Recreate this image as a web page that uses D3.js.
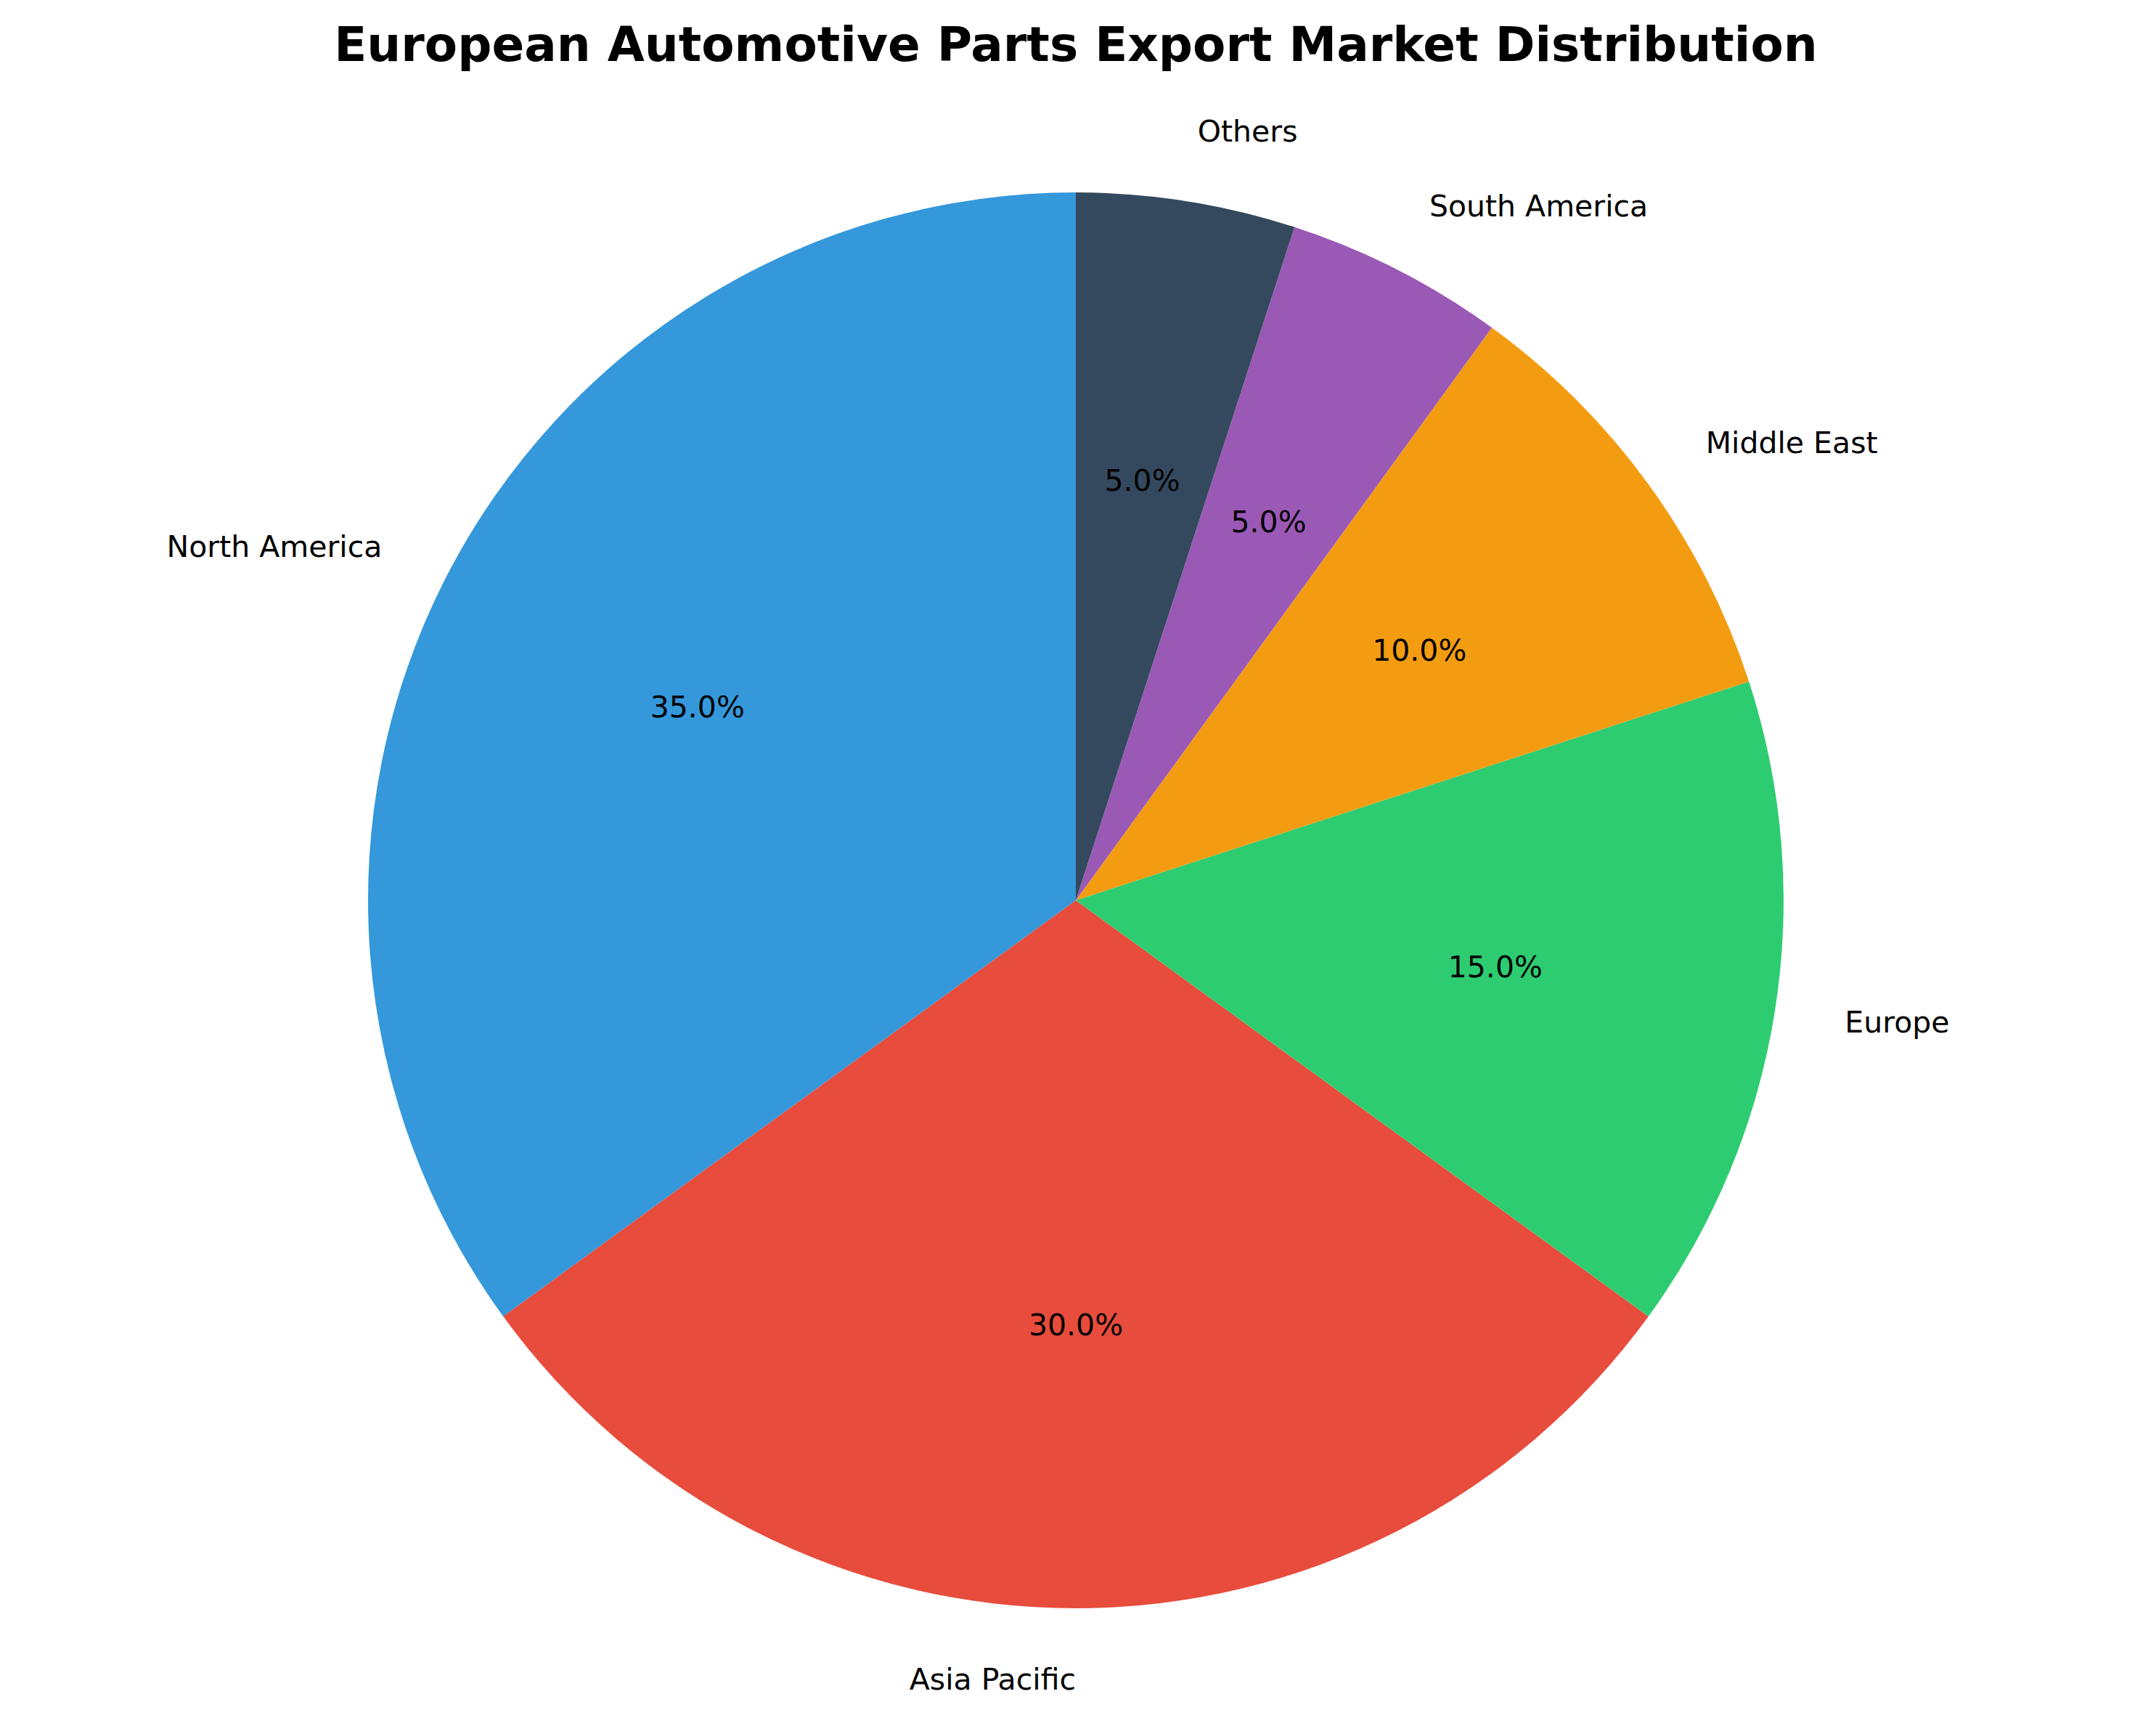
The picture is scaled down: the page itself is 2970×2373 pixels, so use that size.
<!DOCTYPE html>
<html>
<head>
<meta charset="utf-8">
<script src="https://cdn.jsdelivr.net/npm/d3@7"></script>
<style>
  body { margin: 0; background: #fff; }
  text { font-family: "DejaVu Sans", sans-serif; }
</style>
</head>
<body>
<script>
// data
const regions = [`North America`, `Asia Pacific`, `Europe`, `Middle East`, `South America`, `Others`]
const shares = [35, 30, 15, 10, 5, 5]
const colors = [`#3498db`, `#e74c3c`, `#2ecc71`, `#f39c12`, `#9b59b6`, `#34495e`]

const width = 2970, height = 2373
const cx = 1482, cy = 1240, radius = 975

const svg = d3.select(`body`).append(`svg`)
  .attr(`width`, width).attr(`height`, height)

svg.append(`text`)
  .attr(`x`, 1482).attr(`y`, 84)
  .attr(`text-anchor`, `middle`)
  .attr(`font-size`, 66).attr(`font-weight`, `bold`)
  .text(`European Automotive Parts Export Market Distribution`)

// counterclockwise from top, like matplotlib startangle=90
const pie = d3.pie().sort(null).value(d => d)
const slices = pie(shares).map(s => ({ ...s, startAngle: -s.endAngle, endAngle: -s.startAngle }))

const arc = d3.arc().innerRadius(0).outerRadius(radius)
const g = svg.append(`g`).attr(`transform`, `translate(${cx},${cy})`)

g.selectAll(`path`).data(slices).join(`path`)
  .attr(`d`, arc)
  .attr(`fill`, (d, i) => colors[i])

const total = d3.sum(shares)
const pos = (d, k) => {
  const a = (d.startAngle + d.endAngle) / 2
  return [Math.sin(a) * radius * k, -Math.cos(a) * radius * k]
}

g.selectAll(`.pct`).data(slices).join(`text`)
  .attr(`x`, d => pos(d, 0.6)[0]).attr(`y`, d => pos(d, 0.6)[1])
  .attr(`text-anchor`, `middle`).attr(`dominant-baseline`, `central`)
  .attr(`font-size`, 41)
  .text(d => (d.value / total * 100).toFixed(1) + `%`)

g.selectAll(`.lbl`).data(slices).join(`text`)
  .attr(`x`, d => pos(d, 1.1)[0]).attr(`y`, d => pos(d, 1.1)[1])
  .attr(`text-anchor`, d => pos(d, 1.1)[0] < 0 ? `end` : `start`)
  .attr(`dominant-baseline`, `central`)
  .attr(`font-size`, 41)
  .text((d, i) => regions[i])
</script>
</body>
</html>
